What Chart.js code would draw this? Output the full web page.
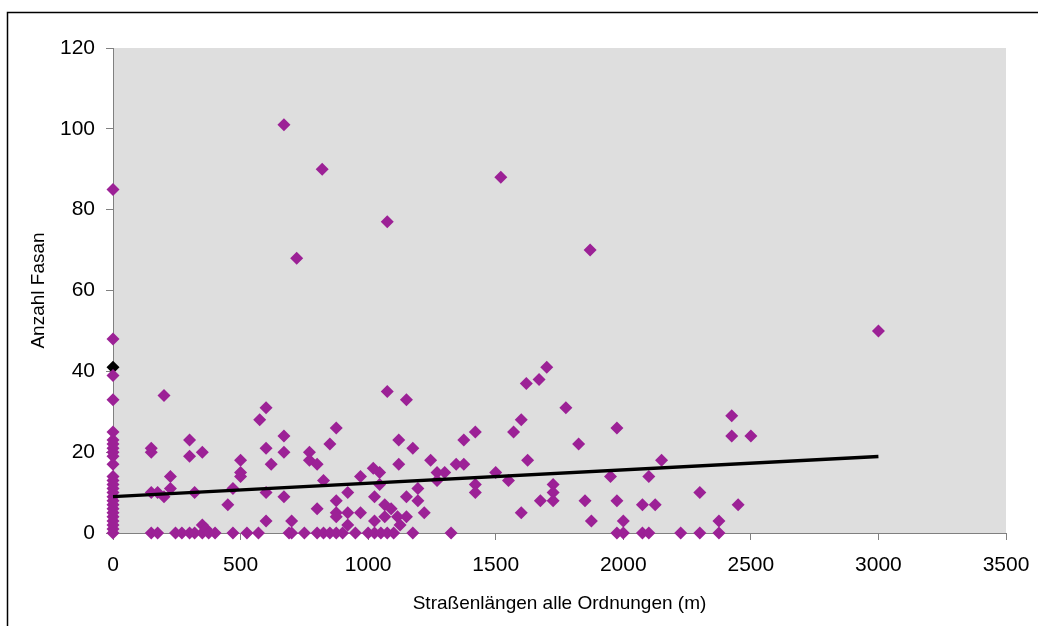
<!DOCTYPE html>
<html lang="de">
<head>
<meta charset="UTF-8">
<title>Anzahl Fasan</title>
<script src="https://cdn.jsdelivr.net/npm/chart.js@4.4.0/dist/chart.umd.min.js"></script>
<style>
  html, body { margin: 0; padding: 0; background: #fff; }
  #wrap { width: 1038px; height: 626px; }
</style>
</head>
<body>
<div id="wrap"><canvas id="fasanChart" width="1038" height="626"></canvas></div>
<script>
// Straßenlänge (m) je Fläche
const strassenLaenge = [
  0, 0, 0, 0, 0, 0, 0, 0, 0, 0, 0, 0, 0, 0, 0, 0, 0, 0, 0, 0, 0, 0, 0, 0, 0, 0,
  150, 150, 150, 150, 175, 175, 200, 200, 225, 225, 245, 270, 300, 300, 300, 320, 320,
  350, 350, 350, 365, 375, 400, 450, 470, 470, 500, 500, 500,
  525, 570, 575, 600, 600, 600, 600, 620, 670, 670, 670, 670, 690, 700, 700, 720, 750,
  770, 770, 800, 800, 800, 820, 825, 825, 850, 850, 875, 875, 875, 875, 875, 900,
  920, 920, 920, 950, 970, 970, 1000,
  1020, 1025, 1025, 1025, 1045, 1045, 1050, 1065, 1065, 1075, 1075, 1075, 1090, 1100,
  1115, 1120, 1120, 1125, 1150, 1150, 1150, 1175, 1175, 1195, 1195, 1220, 1245, 1270,
  1270, 1300, 1325, 1345, 1375, 1375, 1420, 1420, 1420, 1500,
  1520, 1550, 1570, 1600, 1600, 1620, 1625, 1670, 1675, 1700, 1725, 1725, 1725, 1775,
  1825, 1850, 1870, 1875, 1950, 1975, 1975, 1975, 2000, 2000, 2075, 2075, 2100, 2100,
  2125, 2150, 2225, 2300, 2300, 2375, 2375, 2425, 2425, 2450, 2500, 3000
];
// Anzahl Fasan je Fläche
const anzahlFasan = [
  0, 1, 2, 3, 4, 5, 6, 7, 8, 9, 10, 11, 12, 13, 14, 17, 19, 20, 21, 22, 23, 25, 33, 39, 48, 85,
  21, 20, 10, 0, 10, 0, 34, 9, 14, 11, 0, 0, 23, 19, 0, 10, 0,
  20, 2, 0, 1, 0, 0, 7, 11, 0, 18, 15, 14,
  0, 0, 28, 31, 21, 10, 3, 17, 101, 24, 20, 9, 0, 3, 0, 68, 0,
  20, 18, 17, 6, 0, 90, 13, 0, 22, 0, 26, 8, 5, 4, 0, 0,
  10, 5, 2, 0, 14, 5, 0,
  16, 9, 3, 0, 15, 12, 0, 7, 4, 77, 35, 0, 6, 0,
  4, 23, 17, 2, 33, 9, 4, 21, 0, 11, 8, 5, 18, 15,
  13, 15, 0, 17, 23, 17, 25, 12, 10, 15,
  88, 13, 25, 28, 5, 37, 18, 38, 8, 41, 12, 10, 8, 31,
  22, 8, 70, 3, 14, 26, 8, 0, 3, 0, 7, 0, 14, 0,
  7, 18, 0, 10, 0, 3, 0, 29, 24, 7, 24, 50
];
// hervorgehobener Punkt (schwarz)
const markiertX = [0];
const markiertY = [41];
// lineare Trendlinie
const trendX = [0, 3000];
const trendY = [9, 18.9];

const xTicks = [0, 500, 1000, 1500, 2000, 2500, 3000, 3500];
const yTicks = [0, 20, 40, 60, 80, 100, 120];

function toPoints(xs, ys) {
  return xs.map((x, i) => ({ x: x, y: ys[i] }));
}

const chartFrame = {
  id: 'chartFrame',
  beforeDraw(chart) {
    const { ctx, chartArea: a } = chart;
    ctx.save();
    ctx.fillStyle = '#ffffff';
    ctx.fillRect(0, 0, chart.width, chart.height);
    ctx.fillStyle = '#dedede';
    ctx.fillRect(a.left, a.top, a.right - a.left, a.bottom - a.top);
    ctx.strokeStyle = '#000000';
    ctx.lineWidth = 1.5;
    ctx.beginPath();
    ctx.moveTo(7.5, chart.height);
    ctx.lineTo(7.5, 12.5);
    ctx.lineTo(chart.width, 12.5);
    ctx.stroke();
    ctx.restore();
  }
};

Chart.defaults.font.family = '"Liberation Sans", Arial, sans-serif';
Chart.defaults.color = '#000000';

new Chart(document.getElementById('fasanChart'), {
  type: 'scatter',
  data: {
    datasets: [
      {
        label: 'Trend',
        data: toPoints(trendX, trendY),
        showLine: true,
        borderColor: '#000000',
        borderWidth: 3.5,
        pointRadius: 0,
        clip: false
      },
      {
        label: 'Fasan',
        data: toPoints(strassenLaenge, anzahlFasan),
        pointStyle: 'rectRot',
        pointRadius: 6.5,
        pointBorderWidth: 0,
        backgroundColor: '#9c2196',
        borderColor: '#9c2196',
        clip: false
      },
      {
        label: 'markiert',
        data: toPoints(markiertX, markiertY),
        pointStyle: 'rectRot',
        pointRadius: 6.5,
        pointBorderWidth: 0,
        backgroundColor: '#000000',
        borderColor: '#000000',
        clip: false
      }
    ]
  },
  options: {
    responsive: false,
    animation: false,
    devicePixelRatio: 1,
    layout: { padding: { left: 0, top: 48, right: 32, bottom: 0 } },
    plugins: {
      legend: { display: false },
      tooltip: { enabled: false }
    },
    scales: {
      x: {
        type: 'linear',
        min: 0,
        max: 3500,
        afterBuildTicks: s => { s.ticks = xTicks.map(v => ({ value: v })); },
        afterFit: s => { s.height = 93; s.paddingLeft = 0; s.paddingRight = 0; },
        ticks: { font: { size: 21 }, padding: 13, maxRotation: 0, callback: v => String(v) },
        grid: { drawOnChartArea: false, drawTicks: true, tickLength: 7, color: '#808080' },
        border: { color: '#808080', width: 1 },
        title: {
          display: true,
          text: 'Straßenlängen alle Ordnungen (m)',
          font: { size: 19 },
          padding: { top: 0, bottom: 11 }
        }
      },
      y: {
        type: 'linear',
        min: 0,
        max: 120,
        afterBuildTicks: s => { s.ticks = yTicks.map(v => ({ value: v })); },
        afterFit: s => { s.width = 113; s.paddingTop = 0; s.paddingBottom = 0; },
        ticks: { font: { size: 21 }, padding: 11, callback: v => String(v) },
        grid: { drawOnChartArea: false, drawTicks: true, tickLength: 7, color: '#808080' },
        border: { color: '#808080', width: 1 },
        title: {
          display: true,
          text: 'Anzahl Fasan',
          font: { size: 19 },
          padding: { top: 27, bottom: 0 }
        }
      }
    }
  },
  plugins: [chartFrame]
});
</script>
</body>
</html>
